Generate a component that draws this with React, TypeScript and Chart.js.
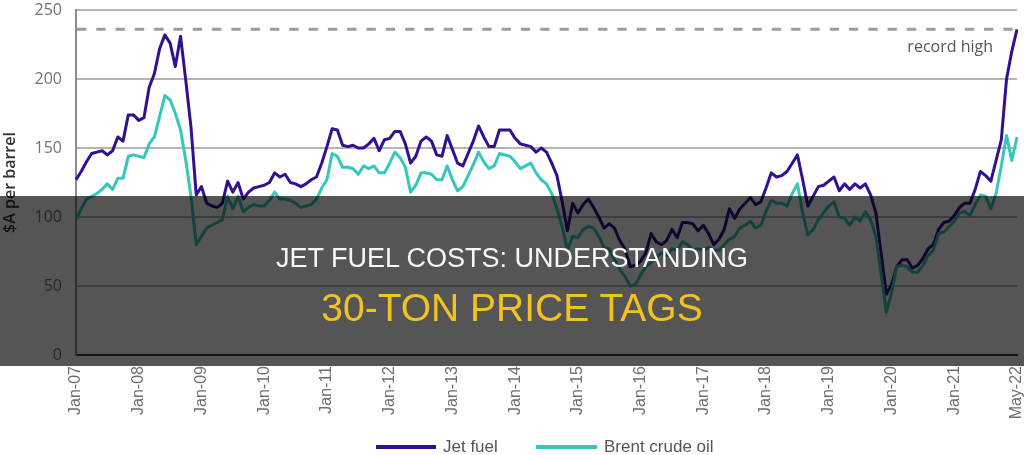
import React, { useEffect, useRef } from "react";
import { Chart, registerables } from "chart.js";

Chart.register(...registerables);

// Year markers shown on the x axis, one every 12 monthly points
const YEAR_TICKS = [
  "Jan-07", "Jan-08", "Jan-09", "Jan-10", "Jan-11", "Jan-12", "Jan-13", "Jan-14",
  "Jan-15", "Jan-16", "Jan-17", "Jan-18", "Jan-19", "Jan-20", "Jan-21", "May-22",
];

// Monthly prices, $A per barrel
const JET_FUEL = [
  127, 133, 140, 146, 147, 148, 145, 148, 158, 155,
  174, 174, 170, 172, 194, 204, 222, 232, 226, 209,
  231, 199, 165, 116, 122, 110, 108, 107, 110, 126,
  118, 125, 113, 118, 121, 122, 123, 125, 132, 129,
  131, 125, 124, 122, 124, 127, 129, 139, 151, 164,
  163, 152, 151, 152, 150, 150, 153, 157, 148, 156,
  157, 162, 162, 153, 139, 144, 155, 158, 155, 145,
  144, 159, 149, 139, 137, 146, 155, 166, 158, 151,
  151, 163, 163, 163, 157, 153, 152, 151, 147, 150,
  147, 139, 130, 111, 90, 110, 103, 109, 113, 107,
  100, 92, 95, 92, 83, 77, 64, 65, 68, 74,
  88, 82, 80, 83, 91, 85, 96, 96, 95, 90,
  94, 88, 80, 84, 91, 106, 99, 106, 110, 114,
  109, 111, 121, 132, 129, 130, 133, 139, 145, 127,
  108, 115, 122, 123, 126, 129, 119, 124, 120, 124,
  121, 124, 116, 103, 74, 44, 51, 64, 69, 69,
  63, 65, 70, 77, 80, 91, 96, 97, 101, 107,
  110, 110, 120, 133, 130, 126, 141, 156, 200, 220,
  236,
];

const BRENT_CRUDE = [
  98, 106, 113, 115, 117, 120, 124, 120, 128, 128,
  144, 145, 144, 143, 153, 158, 173, 188, 185, 175,
  163, 141, 115, 80, 86, 92, 94, 96, 98, 115,
  106, 115, 104, 107, 109, 108, 108, 112, 118, 113,
  113, 112, 110, 107, 108, 109, 113, 121, 127, 146,
  144, 136, 136, 135, 131, 137, 135, 137, 132, 132,
  139, 147, 143, 136, 118, 123, 132, 132, 131, 127,
  127, 137, 127, 119, 122, 130, 138, 147, 140, 135,
  137, 146, 145, 144, 140, 135, 137, 139, 132, 127,
  124, 117, 106, 93, 76, 86, 85, 91, 93, 92,
  86, 78, 77, 69, 62, 57, 50, 51, 58, 64,
  67, 71, 74, 72, 77, 76, 82, 80, 76, 77,
  76, 78, 76, 76, 80, 84, 86, 92, 94, 97,
  92, 94, 104, 112, 110, 110, 108, 117, 124, 103,
  87, 91, 98, 103, 108, 111, 100, 99, 94, 100,
  97, 104, 98, 86, 59, 31, 45, 64, 65, 64,
  60, 60, 65, 72, 76, 88, 89, 93, 97, 103,
  104, 101, 109, 116, 115, 106, 117, 137, 159, 141,
  158,
];

const RECORD_HIGH = 236;
const Y_MIN = 0;
const Y_MAX = 250;
const Y_STEP = 50;

const JET_COLOR = "#33108f";
const BRENT_COLOR = "#35c7b9";

const CATEGORIES = JET_FUEL.map((_, i) => (i % 12 === 0 ? YEAR_TICKS[i / 12] : ""));

const recordHighLine = {
  id: "recordHighLine",
  beforeDatasetsDraw(chart: any) {
    const { ctx, chartArea, scales } = chart;
    const y = scales.y.getPixelForValue(RECORD_HIGH);
    ctx.save();
    ctx.strokeStyle = "#9c9c9c";
    ctx.lineWidth = 3;
    ctx.setLineDash([9.3, 10]);
    ctx.beginPath();
    ctx.moveTo(chartArea.left + 1, y);
    ctx.lineTo(chartArea.right + 2, y);
    ctx.stroke();
    ctx.setLineDash([]);
    ctx.font = "16px 'Open Sans'";
    ctx.fillStyle = "#555555";
    ctx.textAlign = "right";
    ctx.textBaseline = "alphabetic";
    ctx.fillText("record high", chartArea.right - 24, y + 23);
    ctx.restore();
  },
};

function FuelChart() {
  const canvasRef = useRef<HTMLCanvasElement | null>(null);

  useEffect(() => {
    const canvas = canvasRef.current;
    if (!canvas) return;
    const chart = new Chart(canvas, {
      type: "line",
      data: {
        labels: CATEGORIES,
        datasets: [
          {
            label: "Brent crude oil",
            data: BRENT_CRUDE,
            borderColor: BRENT_COLOR,
            backgroundColor: BRENT_COLOR,
            borderWidth: 3,
            pointRadius: 0,
            tension: 0,
            borderJoinStyle: "round",
          },
          {
            label: "Jet fuel",
            data: JET_FUEL,
            borderColor: JET_COLOR,
            backgroundColor: JET_COLOR,
            borderWidth: 3,
            pointRadius: 0,
            tension: 0,
            borderJoinStyle: "round",
          },
        ],
      },
      options: {
        responsive: false,
        animation: false,
        devicePixelRatio: 1,
        layout: { padding: { top: 10, right: 7, left: 0, bottom: 0 } },
        plugins: {
          legend: { display: false },
          tooltip: { enabled: false },
        },
        scales: {
          x: {
            type: "category",
            offset: false,
            grid: { display: false, drawTicks: false },
            border: { display: true, color: "#3c3c3c", width: 2 },
            ticks: {
              autoSkip: false,
              minRotation: 90,
              maxRotation: 90,
              padding: 11,
              color: "#6e6e6e",
              font: { family: "'Liberation Sans', Arial", size: 16 },
              callback: (_v: any, index: number) => CATEGORIES[index] || null,
            },
            afterFit: (scale: any) => {
              scale.height = 100;
              scale.paddingLeft = 0;
              scale.paddingRight = 0;
            },
          },
          y: {
            min: Y_MIN,
            max: Y_MAX,
            grid: {
              drawTicks: false,
              lineWidth: 2,
              color: (c: any) => (c.tick && c.tick.value === 0 ? "rgba(0,0,0,0)" : "#b5b5b5"),
            },
            border: { display: true, color: "#8c8c8c", width: 2 },
            ticks: {
              stepSize: Y_STEP,
              padding: 14,
              color: "#737373",
              font: { family: "'Open Sans'", size: 16 },
            },
            title: {
              display: true,
              text: "$A per barrel",
              color: "#333333",
              font: { family: "'Open Sans'", size: 16, weight: "600" },
              padding: { top: 1, bottom: 0 },
            },
            afterFit: (scale: any) => {
              scale.width = 76;
              scale.paddingTop = 0;
              scale.paddingBottom = 0;
            },
          },
        },
      },
      plugins: [recordHighLine],
    });
    return () => chart.destroy();
  }, []);

  return <canvas ref={canvasRef} width={1024} height={455} style={{ width: 1024, height: 455, display: "block" }} />;
}

const legendText: React.CSSProperties = {
  position: "absolute",
  top: 437,
  fontFamily: "'Liberation Sans', Arial",
  fontSize: 17,
  lineHeight: "20px",
  color: "#555555",
  whiteSpace: "nowrap",
};

export default function App() {
  return (
    <div style={{ position: "absolute", left: 0, top: 0, width: 1024, height: 455, background: "#ffffff", overflow: "hidden" }}>
      <FuelChart />
      <div style={{ position: "absolute", left: 376, top: 445, width: 60, height: 4, background: JET_COLOR }} />
      <div style={{ ...legendText, left: 443 }}>Jet fuel</div>
      <div style={{ position: "absolute", left: 536, top: 445, width: 61, height: 4, background: BRENT_COLOR }} />
      <div style={{ ...legendText, left: 604 }}>Brent crude oil</div>
      <div
        style={{
          position: "absolute",
          left: 0,
          top: 196,
          width: 1024,
          height: 170,
          background: "rgba(0,0,0,0.667)",
        }}
      >
        <div
          style={{
            position: "absolute",
            left: 0,
            top: 49,
            width: 1024,
            textAlign: "center",
            fontFamily: "'Liberation Sans', Arial",
            fontSize: 27,
            lineHeight: "27px",
            color: "#f7f7f7",
            whiteSpace: "nowrap",
          }}
        >
          JET FUEL COSTS: UNDERSTANDING
        </div>
        <div
          style={{
            position: "absolute",
            left: 0,
            top: 92,
            width: 1024,
            textAlign: "center",
            fontFamily: "'Liberation Sans', Arial",
            fontSize: 39,
            lineHeight: "39px",
            color: "#f3c21f",
            whiteSpace: "nowrap",
          }}
        >
          30-TON PRICE TAGS
        </div>
      </div>
    </div>
  );
}
